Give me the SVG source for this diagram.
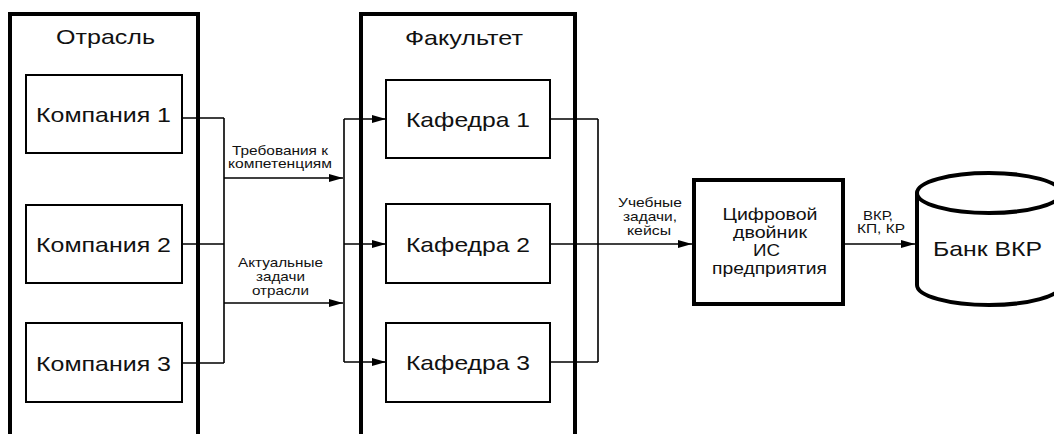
<svg xmlns="http://www.w3.org/2000/svg" width="1054" height="434" viewBox="0 0 1054 434">
<defs>
<marker id="ah" viewBox="0 0 14 8" refX="14" refY="4" markerWidth="14" markerHeight="8" markerUnits="userSpaceOnUse" orient="auto">
<path d="M0,0 L14,4 L0,8 Z" fill="#000"/>
</marker>
</defs>
<style>
text{font-family:"Liberation Sans",Arial,sans-serif;fill:#111;text-anchor:middle}
.cont{fill:none;stroke:#000;stroke-width:4}
.box{fill:#fff;stroke:#000;stroke-width:2}
.big{font-size:21px}
.mid{font-size:16.5px}
.lbl{font-size:13px}
.ln{fill:none;stroke:#000;stroke-width:1.6}
.arr{fill:none;stroke:#000;stroke-width:1.6;marker-end:url(#ah)}
</style>
<rect width="1054" height="434" fill="#fff"/>
<g id="otrasl">
<rect class="cont" x="10" y="14" width="188" height="440"/>
<text class="big" x="105.5" y="44" textLength="99" lengthAdjust="spacingAndGlyphs">Отрасль</text>
</g>
<g id="fakultet">
<rect class="cont" x="361" y="14" width="214" height="440"/>
<text class="big" x="464" y="45" textLength="118" lengthAdjust="spacingAndGlyphs">Факультет</text>
</g>
<g id="connectors">
<path class="ln" d="M182,118 H224 M182,244 H224 M182,363 H224 M224,118 V363"/>
<path class="arr" d="M224,178 H343"/>
<path class="arr" d="M224,303 H343"/>
<path class="ln" d="M344,119 V362"/>
<path class="arr" d="M344,119 H386"/>
<path class="arr" d="M344,244 H386"/>
<path class="arr" d="M344,362 H386"/>
<path class="ln" d="M550,119 H598 M550,362 H598 M598,119 V362"/>
<path class="arr" d="M550,244 H692"/>
<path class="arr" d="M845,244 H915"/>
<text class="lbl" x="280" y="155" textLength="96" lengthAdjust="spacingAndGlyphs">Требования к</text>
<text class="lbl" x="280" y="168" textLength="104" lengthAdjust="spacingAndGlyphs">компетенциям</text>
<text class="lbl" x="280.5" y="267" textLength="85" lengthAdjust="spacingAndGlyphs">Актуальные</text>
<text class="lbl" x="280.5" y="281" textLength="49" lengthAdjust="spacingAndGlyphs">задачи</text>
<text class="lbl" x="280.5" y="295" textLength="57" lengthAdjust="spacingAndGlyphs">отрасли</text>
<text class="lbl" x="650" y="207" textLength="64" lengthAdjust="spacingAndGlyphs">Учебные</text>
<text class="lbl" x="650" y="221" textLength="54" lengthAdjust="spacingAndGlyphs">задачи,</text>
<text class="lbl" x="649" y="235" textLength="44" lengthAdjust="spacingAndGlyphs">кейсы</text>
<text class="lbl" x="878" y="220" textLength="30" lengthAdjust="spacingAndGlyphs">ВКР,</text>
<text class="lbl" x="881" y="233" textLength="48" lengthAdjust="spacingAndGlyphs">КП, КР</text>
</g>
<g id="kompania1">
<rect class="box" x="26" y="75" width="156" height="78"/>
<text class="big" x="103.5" y="122" textLength="135" lengthAdjust="spacingAndGlyphs">Компания 1</text>
</g>
<g id="kompania2">
<rect class="box" x="26" y="205" width="156" height="78"/>
<text class="big" x="103.5" y="252" textLength="135" lengthAdjust="spacingAndGlyphs">Компания 2</text>
</g>
<g id="kompania3">
<rect class="box" x="26" y="323" width="156" height="79"/>
<text class="big" x="103.5" y="371" textLength="135" lengthAdjust="spacingAndGlyphs">Компания 3</text>
</g>
<g id="kafedra1">
<rect class="box" x="386" y="80" width="164" height="78"/>
<text class="big" x="468" y="127" textLength="124" lengthAdjust="spacingAndGlyphs">Кафедра 1</text>
</g>
<g id="kafedra2">
<rect class="box" x="386" y="204" width="164" height="79"/>
<text class="big" x="468" y="252" textLength="124" lengthAdjust="spacingAndGlyphs">Кафедра 2</text>
</g>
<g id="kafedra3">
<rect class="box" x="386" y="323" width="164" height="79"/>
<text class="big" x="468" y="370" textLength="124" lengthAdjust="spacingAndGlyphs">Кафедра 3</text>
</g>
<g id="twin">
<rect x="694" y="180" width="149" height="124" fill="#fff" stroke="#000" stroke-width="4"/>
<text class="mid" x="770" y="220" textLength="95" lengthAdjust="spacingAndGlyphs">Цифровой</text>
<text class="mid" x="770" y="238" textLength="74" lengthAdjust="spacingAndGlyphs">двойник</text>
<text class="mid" x="766.5" y="256" textLength="27" lengthAdjust="spacingAndGlyphs">ИС</text>
<text class="mid" x="769.5" y="274" textLength="115" lengthAdjust="spacingAndGlyphs">предприятия</text>
</g>
<g id="bank">
<path d="M917,193 V285 A72,20 0 0 0 1061,285 V193 A72,20 0 0 0 917,193 Z" fill="#fff" stroke="#000" stroke-width="4"/>
<path d="M917,193 A72,20 0 0 0 1061,193" fill="none" stroke="#000" stroke-width="4"/>
<text class="big" x="987.5" y="256" textLength="109" lengthAdjust="spacingAndGlyphs">Банк ВКР</text>
</g>
</svg>
